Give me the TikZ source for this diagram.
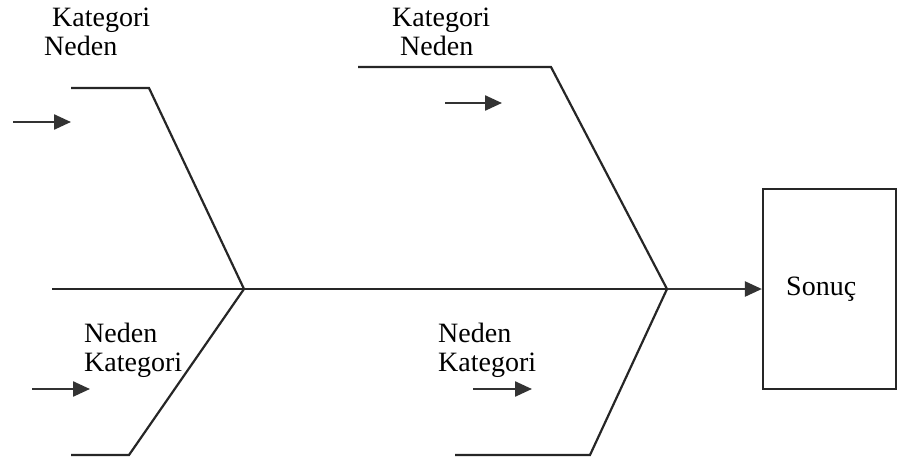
\documentclass[tikz,border=0pt]{standalone}
\usepackage{fontspec}
\setmainfont{Liberation Serif}
\usetikzlibrary{arrows.meta}
\begin{document}
\begin{tikzpicture}[x=1pt,y=-1pt,
  bone/.style={line width=2.2pt,draw=black!85,line join=miter},
  arr/.style={line width=2.4pt,draw=black!80,-{Triangle[length=17pt,width=15pt]}},
  lbl/.style={inner sep=0pt,font=\fontsize{28}{32}\selectfont,anchor=base west}]
\useasboundingbox (0,0) rectangle (899,463);
% box
\node[draw=black!85,line width=2.2pt,minimum width=133pt,minimum height=200pt,inner sep=0pt] (box) at (829.5,289) {};
\node[lbl] (son) at (786,295) {Sonuç};
% spine
\coordinate (tail) at (52,289);
\coordinate (j1) at (244,289);
\coordinate (j2) at (667,289);
\draw[bone] (tail) -- (j1) -- (j2);
\draw[arr] (j2) -- (box.west);
% bones
\coordinate (a1) at (71,88); \coordinate (a2) at (149,88);
\draw[bone] (a1) -- (a2) -- (j1);
\coordinate (b1) at (71,455); \coordinate (b2) at (129,455);
\draw[bone] (b1) -- (b2) -- (j1);
\coordinate (c1) at (358,67); \coordinate (c2) at (551,67);
\draw[bone] (c1) -- (c2) -- (j2);
\coordinate (d1) at (455,455); \coordinate (d2) at (590,455);
\draw[bone] (d1) -- (d2) -- (j2);
% small arrows
\coordinate (p1) at (13,122); \coordinate (q1) at (71,122);
\draw[arr] (p1) -- (q1);
\coordinate (p2) at (32,389); \coordinate (q2) at (90,389);
\draw[arr] (p2) -- (q2);
\coordinate (p3) at (445,103); \coordinate (q3) at (502,103);
\draw[arr] (p3) -- (q3);
\coordinate (p4) at (473,389); \coordinate (q4) at (532,389);
\draw[arr] (p4) -- (q4);
% labels
\node[lbl] (t1) at (52,26) {Kategori};
\node[lbl] (t2) at (44,55) {Neden};
\node[lbl] (t3) at (392,26) {Kategori};
\node[lbl] (t4) at (400,55) {Neden};
\node[lbl] (t5) at (84,342) {Neden};
\node[lbl] (t6) at (84,371) {Kategori};
\node[lbl] (t7) at (438,342) {Neden};
\node[lbl] (t8) at (438,371) {Kategori};
\end{tikzpicture}
\end{document}
